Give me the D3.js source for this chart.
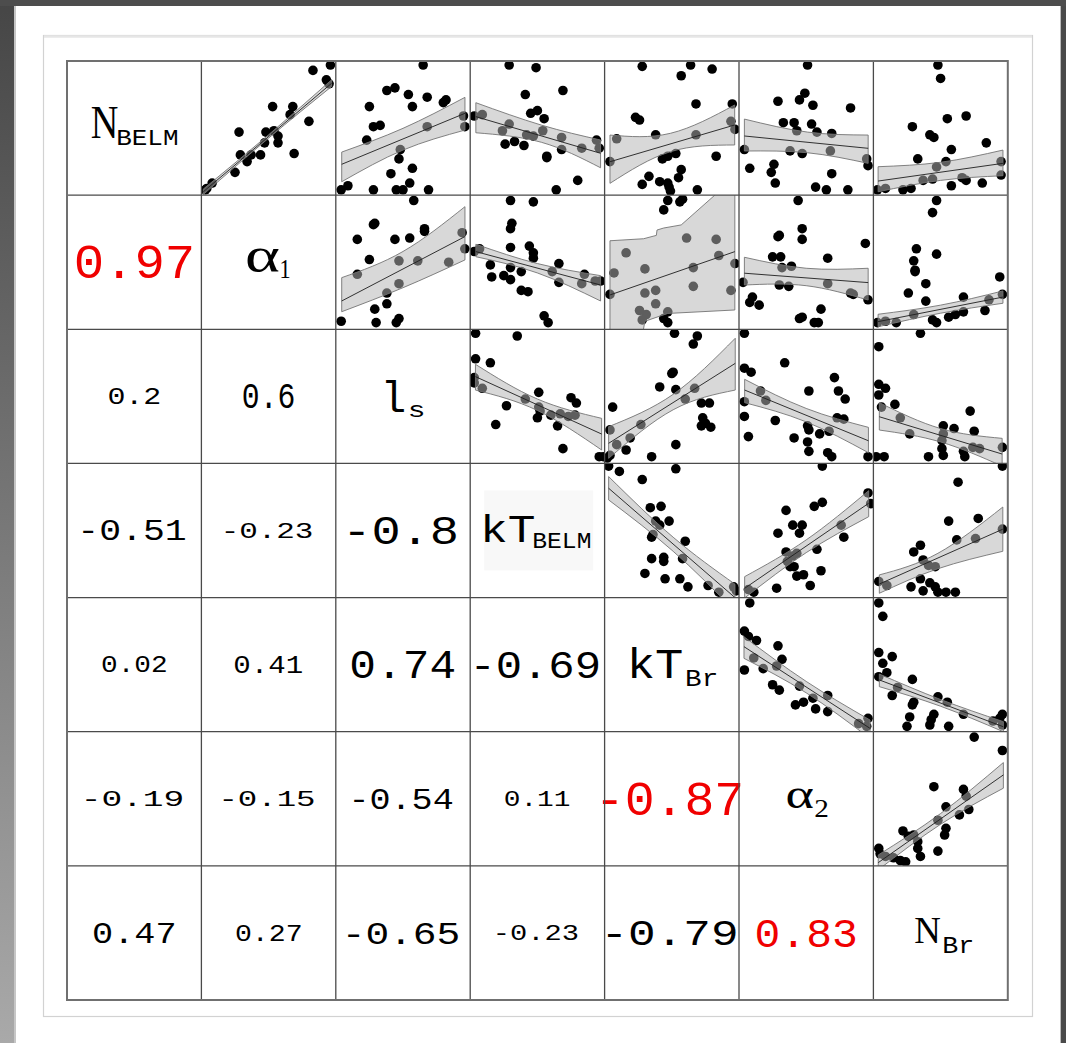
<!DOCTYPE html>
<html>
<head>
<meta charset="utf-8">
<script src="https://cdn.jsdelivr.net/npm/d3@7"></script>
<style>
  html, body { margin: 0; padding: 0; background: #fff; }
  svg { display: block; }
</style>
</head>
<body>
<svg id="chart" width="1066" height="1043"></svg>
<script>
// ---- variables on the diagonal (main symbol + subscript) ----
const varMain = ["N", "α", "l", "kT", "kT", "α", "N"];
const varSub  = ["BELM", "1", "s", "BELM", "Br", "2", "Br"];

// ---- Pearson correlations, lower triangle, row by row ----
const corrRows = [
  [],
  [0.97],
  [0.2, 0.6],
  [-0.51, -0.23, -0.8],
  [0.02, 0.41, 0.74, -0.69],
  [-0.19, -0.15, -0.54, 0.11, -0.87],
  [0.47, 0.27, -0.65, -0.23, -0.79, 0.83]
];

// ---- scatter data for the upper panels: [x, y] scaled 0..1 within each panel ----
const pts_NBELM_alpha1 = [[.83,.93],[.96,.97],[.93,.86],[.95,.83],[.53,.66],[.68,.66],[.66,.60],[.80,.55],[.28,.47],[.48,.47],[.54,.48],[.57,.44],[.47,.39],[.57,.39],[.69,.31],[.29,.30],[.37,.30],[.44,.30],[.34,.25],[.25,.17],[.08,.09],[.04,.05],[.03,.04]];
const pts_NBELM_ls = [[.65,.97],[.38,.78],[.44,.80],[.54,.75],[.68,.73],[.82,.71],[.80,.69],[.25,.66],[.57,.66],[.28,.51],[.33,.52],[.23,.41],[.95,.59],[.96,.51],[.68,.51],[.48,.34],[.47,.27],[.41,.16],[.57,.20],[.55,.09],[.09,.07],[.04,.04],[.28,.04],[.45,.04],[.50,.04],[.69,.04]];
const pts_NBELM_kTBELM = [[.29,.97],[.49,.95],[.41,.75],[.69,.78],[.45,.61],[.50,.63],[.55,.57],[.54,.48],[.09,.60],[.03,.59],[.29,.53],[.24,.48],[.42,.45],[.47,.44],[.68,.43],[.68,.34],[.83,.35],[.94,.41],[.96,.35],[.26,.38],[.33,.40],[.40,.37],[.57,.29],[.57,.28],[.80,.11],[.64,.04]];
const pts_NBELM_kTBr = [[.28,.96],[.64,.97],[.80,.94],[.57,.89],[.68,.68],[.23,.58],[.26,.56],[.95,.68],[.94,.55],[.97,.49],[.09,.42],[.38,.45],[.68,.45],[.04,.25],[.43,.27],[.47,.29],[.53,.31],[.83,.29],[.57,.19],[.55,.13],[.47,.09],[.41,.10],[.33,.14],[.28,.08],[.48,.06],[.49,.03],[.69,.04]];
const pts_NBELM_alpha2 = [[.51,.97],[.49,.76],[.45,.71],[.29,.70],[.55,.67],[.83,.65],[.33,.54],[.41,.54],[.54,.53],[.43,.48],[.58,.47],[.69,.46],[.04,.34],[.38,.33],[.47,.31],[.68,.33],[.95,.27],[.96,.22],[.08,.20],[.26,.23],[.24,.17],[.27,.09],[.69,.16],[.57,.06],[.65,.04],[.81,.04]];
const pts_NBELM_NBr = [[.48,.97],[.50,.87],[.29,.51],[.55,.57],[.69,.59],[.42,.45],[.45,.43],[.84,.39],[.33,.27],[.58,.34],[.54,.25],[.47,.21],[.95,.25],[.95,.15],[.37,.11],[.44,.12],[.66,.13],[.69,.11],[.81,.09],[.58,.07],[.03,.04],[.09,.05],[.22,.04],[.28,.05]];
const pts_alpha1_ls = [[.58,.96],[.29,.79],[.28,.78],[.66,.75],[.66,.73],[.16,.67],[.44,.67],[.55,.68],[.25,.52],[.94,.72],[.96,.60],[.84,.50],[.47,.51],[.61,.51],[.16,.41],[.47,.34],[.38,.27],[.38,.19],[.29,.15],[.47,.08],[.45,.05],[.30,.05],[.04,.06]];
const pts_alpha1_kTBELM = [[.30,.96],[.47,.95],[.31,.79],[.30,.75],[.30,.61],[.44,.62],[.47,.57],[.47,.53],[.07,.60],[.03,.58],[.15,.48],[.30,.46],[.38,.43],[.66,.49],[.61,.43],[.16,.39],[.25,.40],[.30,.37],[.38,.29],[.43,.28],[.66,.35],[.85,.41],[.83,.34],[.93,.36],[.97,.36],[.55,.10],[.58,.05]];
const pts_alpha1_kTBr = [[.47,.96],[.56,.95],[.58,.97],[.44,.89],[.61,.68],[.83,.67],[.16,.57],[.85,.55],[.07,.42],[.30,.45],[.66,.46],[.97,.49],[.04,.26],[.30,.27],[.38,.29],[.66,.32],[.94,.29],[.38,.19],[.26,.14],[.31,.11],[.28,.07],[.47,.13],[.44,.08],[.47,.05]];
const pts_alpha1_alpha2 = [[.44,.96],[.47,.75],[.47,.67],[.30,.70],[.29,.69],[.94,.64],[.25,.54],[.31,.54],[.39,.47],[.32,.46],[.66,.53],[.03,.35],[.30,.33],[.37,.32],[.66,.34],[.83,.27],[.85,.26],[.96,.22],[.10,.24],[.08,.20],[.15,.18],[.61,.15],[.45,.08],[.47,.09],[.56,.05],[.59,.05]];
const pts_alpha1_NBr = [[.47,.96],[.44,.87],[.32,.60],[.47,.56],[.30,.51],[.31,.44],[.31,.43],[.39,.34],[.26,.27],[.39,.21],[.94,.39],[.67,.24],[.96,.26],[.86,.22],[.83,.14],[.30,.11],[.44,.07],[.47,.05],[.56,.09],[.61,.11],[.67,.13],[.03,.05],[.09,.06],[.17,.05]];
const pts_ls_kTBELM = [[.04,.97],[.35,.95],[.04,.78],[.15,.75],[.03,.64],[.03,.60],[.09,.56],[.51,.53],[.41,.48],[.27,.43],[.51,.42],[.52,.39],[.75,.49],[.79,.45],[.60,.36],[.67,.37],[.73,.35],[.78,.36],[.50,.34],[.19,.29],[.65,.28],[.69,.11],[.96,.05],[.99,.05]];
const pts_ls_kTBr = [[.52,.97],[.69,.95],[.66,.89],[.51,.68],[.50,.67],[.41,.57],[.53,.55],[.60,.48],[.67,.56],[.72,.45],[.78,.45],[.06,.42],[.27,.29],[.73,.34],[.75,.30],[.72,.28],[.79,.27],[.04,.25],[.19,.19],[.09,.14],[.53,.14],[.16,.10],[.35,.05],[.04,.06],[.02,.04]];
const pts_ls_alpha2 = [[.04,.97],[.34,.75],[.04,.71],[.09,.68],[.71,.64],[.52,.54],[.16,.54],[.20,.47],[.74,.54],[.79,.48],[.04,.46],[.73,.34],[.78,.33],[.27,.32],[.04,.35],[.51,.28],[.52,.25],[.60,.22],[.67,.24],[.07,.20],[.41,.19],[.51,.16],[.52,.09],[.66,.08],[.69,.05],[.96,.05]];
const pts_ls_NBr = [[.35,.97],[.04,.87],[.04,.59],[.09,.56],[.04,.51],[.16,.44],[.06,.42],[.20,.34],[.27,.22],[.72,.39],[.52,.28],[.60,.26],[.75,.24],[.52,.22],[.51,.17],[.51,.11],[.52,.06],[.41,.05],[.67,.09],[.68,.05],[.74,.12],[.79,.11],[.96,.12],[.02,.05],[.08,.05]];
const pts_kTBELM_kTBr = [[.03,.98],[.11,.94],[.28,.88],[.53,.96],[.34,.67],[.42,.68],[.38,.57],[.48,.57],[.41,.54],[.36,.47],[.35,.45],[.60,.42],[.35,.29],[.44,.30],[.44,.27],[.30,.18],[.45,.14],[.56,.14],[.58,.29],[.62,.08],[.77,.09],[.96,.08],[.98,.05],[.85,.04]];
const pts_kTBELM_alpha2 = [[.62,.98],[.35,.65],[.56,.68],[.62,.71],[.29,.48],[.40,.54],[.47,.54],[.45,.48],[.78,.45],[.58,.36],[.35,.34],[.40,.31],[.43,.33],[.36,.27],[.38,.23],[.41,.23],[.61,.20],[.43,.16],[.48,.17],[.76,.54],[.96,.78],[.98,.70],[.28,.07],[.53,.09],[.07,.06],[.11,.04]];
const pts_kTBELM_NBr = [[.63,.86],[.96,.98],[.56,.57],[.78,.59],[.62,.43],[.96,.51],[.76,.44],[.30,.34],[.35,.39],[.37,.28],[.41,.24],[.46,.23],[.35,.14],[.42,.11],[.46,.08],[.28,.08],[.37,.05],[.48,.04],[.54,.04],[.61,.04],[.04,.12],[.10,.09]];
const pts_kTBr_alpha2 = [[.08,.96],[.04,.75],[.07,.71],[.13,.68],[.29,.64],[.32,.54],[.11,.55],[.18,.47],[.04,.46],[.28,.49],[.25,.35],[.30,.31],[.45,.34],[.55,.25],[.42,.20],[.48,.22],[.57,.17],[.66,.27],[.66,.15],[.89,.06],[.96,.10],[.95,.04]];
const pts_kTBr_NBr = [[.04,.96],[.07,.86],[.04,.59],[.07,.51],[.14,.56],[.10,.44],[.04,.41],[.29,.39],[.14,.27],[.18,.33],[.30,.22],[.29,.20],[.48,.26],[.55,.22],[.45,.13],[.43,.09],[.56,.04],[.27,.11],[.25,.04],[.42,.05],[.67,.13],[.89,.08],[.94,.10],[.96,.13],[.96,.05]];
const pts_alpha2_NBr = [[.75,.96],[.96,.86],[.45,.59],[.67,.57],[.69,.52],[.54,.44],[.71,.42],[.64,.38],[.48,.34],[.54,.28],[.53,.23],[.22,.26],[.26,.22],[.30,.23],[.33,.18],[.33,.13],[.35,.07],[.48,.11],[.04,.13],[.05,.09],[.09,.07],[.15,.06],[.20,.04],[.24,.03]];

// ---- linear fits with confidence bands: [x, lower, fit, upper] ----
const band_NBELM_alpha1 = [[.014,.005,.025,.045],[.5,.425,.437,.45],[.969,.81,.834,.86]];
const band_NBELM_ls = [[.044,.10,.23,.321],[.5,.336,.419,.498],[.961,.485,.61,.729]];
const band_NBELM_kTBELM = [[.042,.465,.585,.689],[.53,.394,.45,.522],[.97,.204,.312,.411]];
const band_NBELM_kTBr = [[.04,.088,.249,.448],[.49,.324,.394,.461],[.968,.374,.523,.672]];
const band_NBELM_alpha2 = [[.04,.329,.441,.567],[.51,.316,.395,.47],[.961,.237,.349,.448]];
const band_NBELM_NBr = [[.035,.025,.105,.212],[.5,.11,.171,.245],[.964,.145,.237,.336]];
const band_alpha1_ls = [[.044,.131,.211,.385],[.5,.31,.45,.58],[.961,.517,.691,.914]];
const band_alpha1_kTBELM = [[.042,.541,.579,.634],[.5,.42,.456,.49],[.97,.211,.33,.40]];
const band_alpha1_alpha2 = [[.04,.33,.418,.537],[.5,.325,.383,.455],[.961,.218,.348,.455]];
const band_alpha1_NBr = [[.035,.019,.057,.112],[.5,.12,.148,.18],[.964,.194,.24,.286]];
const band_ls_kTBELM = [[.039,.547,.647,.739],[.5,.395,.437,.48],[.978,.10,.219,.336]];
const band_ls_kTBr = [[.03,.038,.15,.274],[.51,.40,.456,.515],[.972,.547,.746,.933]];
const band_ls_alpha2 = [[.042,.453,.547,.627],[.5,.31,.359,.41],[.963,.08,.169,.269]];
const band_ls_NBr = [[.044,.249,.348,.453],[.5,.16,.209,.26],[.958,-.02,.07,.187]];
const band_kTBELM_kTBr = [[.03,.728,.815,.902],[.51,.345,.399,.45],[.97,-.10,0,.10]];
const band_kTBELM_alpha2 = [[.042,-.003,.069,.156],[.5,.335,.384,.43],[.965,.603,.703,.797]];
const band_kTBELM_NBr = [[.044,.032,.101,.169],[.48,.215,.27,.33],[.963,.345,.51,.675]];
const band_kTBr_alpha2 = [[.037,.547,.634,.708],[.5,.29,.333,.375],[.975,-.05,.025,.087]];
const band_kTBr_NBr = [[.044,.336,.386,.43],[.5,.19,.214,.24],[.967,0,.037,.075]];
const band_alpha2_NBr = [[.036,-.03,.024,.081],[.5,.31,.35,.39],[.967,.579,.678,.77]];
// the alpha1 / kT_Br band is irregular: its edges as [x, y] and the fit end points
const band_alpha1_kTBr_upper = [[.04,.66],[.29,.675],[.385,.70],[.39,.74],[.44,.755],[.57,.778],[.82,1.0],[.969,1.15]];
const band_alpha1_kTBr_lower = [[.04,-.05],[.28,-.05],[.30,.06],[.47,.118],[.969,.144]];
const fit_alpha1_kTBr = [[.04,.256],[.969,.579]];

const panels = [
  {r:0, c:1, pts: pts_NBELM_alpha1, band: band_NBELM_alpha1},
  {r:0, c:2, pts: pts_NBELM_ls, band: band_NBELM_ls},
  {r:0, c:3, pts: pts_NBELM_kTBELM, band: band_NBELM_kTBELM},
  {r:0, c:4, pts: pts_NBELM_kTBr, band: band_NBELM_kTBr},
  {r:0, c:5, pts: pts_NBELM_alpha2, band: band_NBELM_alpha2},
  {r:0, c:6, pts: pts_NBELM_NBr, band: band_NBELM_NBr},
  {r:1, c:2, pts: pts_alpha1_ls, band: band_alpha1_ls},
  {r:1, c:3, pts: pts_alpha1_kTBELM, band: band_alpha1_kTBELM},
  {r:1, c:4, pts: pts_alpha1_kTBr, band: null},
  {r:1, c:5, pts: pts_alpha1_alpha2, band: band_alpha1_alpha2},
  {r:1, c:6, pts: pts_alpha1_NBr, band: band_alpha1_NBr},
  {r:2, c:3, pts: pts_ls_kTBELM, band: band_ls_kTBELM},
  {r:2, c:4, pts: pts_ls_kTBr, band: band_ls_kTBr},
  {r:2, c:5, pts: pts_ls_alpha2, band: band_ls_alpha2},
  {r:2, c:6, pts: pts_ls_NBr, band: band_ls_NBr},
  {r:3, c:4, pts: pts_kTBELM_kTBr, band: band_kTBELM_kTBr},
  {r:3, c:5, pts: pts_kTBELM_alpha2, band: band_kTBELM_alpha2},
  {r:3, c:6, pts: pts_kTBELM_NBr, band: band_kTBELM_NBr},
  {r:4, c:5, pts: pts_kTBr_alpha2, band: band_kTBr_alpha2},
  {r:4, c:6, pts: pts_kTBr_NBr, band: band_kTBr_NBr},
  {r:5, c:6, pts: pts_alpha2_NBr, band: band_alpha2_NBr}
];

// ---- typesetting: ink box (width, height) of each correlation value ----
const corrBox = [
  [],
  [[115,33]],
  [[50,16],[50,25]],
  [[102,20],[86,15],[106,28]],
  [[63,16],[67,18],[102,28],[122,27]],
  [[96,15],[90,15],[98,21],[64,15],[138,33]],
  [[80,20],[64,17],[110,22],[80,15],[128,25],[98,28]]
];
// diagonal labels: ink box of symbol and subscript relative to the cell centre [dx, dy, w, h]
const MONO = "Liberation Mono", SERIF = "Liberation Serif";
const diagLayout = [
  {main:[-29.7,-5.1,26,30], sub:[13.3,9.4,59,15], mf:SERIF, sf:MONO},
  {main:[-5.6,-2.2,32,24], sub:[16.6,6.8,8,18], mf:SERIF, sf:SERIF},
  {main:[-8,-0.3,18,32], sub:[13.5,14.7,13,12], mf:MONO, sf:MONO},
  {main:[-27.9,-3,49,29], sub:[24.6,10,56,15], mf:MONO, sf:MONO},
  {main:[-14.8,-2.1,50,31], sub:[29.7,13.4,29,16], mf:MONO, sf:MONO},
  {main:[-6.2,-0.8,26,20], sub:[15.3,9.7,12,17], mf:SERIF, sf:SERIF},
  {main:[-13.1,-2.4,25,25], sub:[17.4,12.1,28,16], mf:SERIF, sf:MONO}
];

const svg = d3.select("#chart");
const W = 1066, H = 1043;
const defs = svg.append("defs");

// ---- page frame ----
svg.append("rect").attr("width", W).attr("height", H).attr("fill", "#fff");
const lg = defs.append("linearGradient").attr("id", "sideGrad").attr("x1", 0).attr("y1", 0).attr("x2", 0).attr("y2", 1);
lg.append("stop").attr("offset", "0%").attr("stop-color", "#464646");
lg.append("stop").attr("offset", "100%").attr("stop-color", "#a9a9a9");
svg.append("rect").attr("x", 0).attr("y", 0).attr("width", 14).attr("height", H).attr("fill", "url(#sideGrad)");
svg.append("rect").attr("x", 14).attr("y", 0).attr("width", 2).attr("height", H).attr("fill", "#b8b8b8").attr("opacity", 0.8);
svg.append("rect").attr("x", 1061).attr("y", 0).attr("width", 5).attr("height", H).attr("fill", "#4a4a4a");
svg.append("rect").attr("x", 1060).attr("y", 0).attr("width", 1).attr("height", H).attr("fill", "#bbb");
svg.append("rect").attr("x", 0).attr("y", 0).attr("width", W).attr("height", 6).attr("fill", "#4d4d4d");

// inner sheet
svg.append("rect").attr("x", 43.5).attr("y", 35.5).attr("width", 989).attr("height", 981)
  .attr("fill", "#fff").attr("stroke", "#d2d2d2").attr("stroke-width", 1.2);
svg.append("line").attr("x1", 44).attr("x2", 1032).attr("y1", 36.5).attr("y2", 36.5)
  .attr("stroke", "#e6e6e6").attr("stroke-width", 2.5);

// ---- matrix scales ----
const n = 7;
const col = d3.scaleBand().domain(d3.range(n)).range([67, 1007.8]);
const row = d3.scaleBand().domain(d3.range(n)).range([61, 1000]);
const cw = col.bandwidth(), ch = row.bandwidth();

// measuring context for fitting text ink boxes
const ctx = document.createElement("canvas").getContext("2d");
function fitText(g, str, family, cx, cy, w, h, fill) {
  ctx.font = `100px '${family}'`;
  const m = ctx.measureText(str);
  const inkW = m.actualBoundingBoxLeft + m.actualBoundingBoxRight;
  const inkH = m.actualBoundingBoxAscent + m.actualBoundingBoxDescent;
  const s = h / inkH;
  const sx = w / (inkW * s);
  const midX = (m.actualBoundingBoxRight - m.actualBoundingBoxLeft) / 2 * s;
  const midY = (m.actualBoundingBoxDescent - m.actualBoundingBoxAscent) / 2 * s;
  g.append("text")
    .attr("transform", `translate(${cx - midX * sx},${cy - midY}) scale(${sx},1)`)
    .attr("font-family", family)
    .attr("font-size", 100 * s)
    .attr("fill", fill)
    .text(str);
}

// ---- upper triangle: scatter + fit ----
const gPanels = svg.append("g");
panels.forEach((p, i) => {
  const x = d3.scaleLinear().domain([0, 1]).range([col(p.c), col(p.c) + cw]);
  const y = d3.scaleLinear().domain([0, 1]).range([row(p.r) + ch, row(p.r)]);
  const id = "clip" + i;
  defs.append("clipPath").attr("id", id).append("rect")
    .attr("x", col(p.c)).attr("y", row(p.r)).attr("width", cw).attr("height", ch);
  const g = gPanels.append("g").attr("clip-path", `url(#${id})`);

  g.selectAll("circle").data(p.pts).join("circle")
    .attr("cx", d => x(d[0])).attr("cy", d => y(d[1])).attr("r", 4.8).attr("fill", "#000");

  let bandPath, fitPts;
  if (p.band) {
    bandPath = d3.area().x(d => x(d[0])).y0(d => y(d[1])).y1(d => y(d[3])).curve(d3.curveNatural)(p.band);
    fitPts = [p.band[0], p.band[p.band.length - 1]].map(d => [d[0], d[2]]);
  } else {
    const poly = band_alpha1_kTBr_upper.concat(band_alpha1_kTBr_lower.slice().reverse());
    bandPath = d3.line().x(d => x(d[0])).y(d => y(d[1]))(poly) + "Z";
    fitPts = fit_alpha1_kTBr;
  }
  g.append("path").attr("d", bandPath)
    .attr("fill", "rgb(180,180,180)").attr("fill-opacity", 0.52)
    .attr("stroke", "#747474").attr("stroke-width", 0.9);
  g.append("path").attr("d", d3.line().x(d => x(d[0])).y(d => y(d[1]))(fitPts))
    .attr("fill", "none").attr("stroke", "#1e1e1e").attr("stroke-width", 0.9);
});

// ---- lower triangle: correlation values ----
const gCorr = svg.append("g");
corrRows.forEach((vals, r) => {
  vals.forEach((v, c) => {
    const [bw, bh] = corrBox[r][c];
    const cx = col(c) + cw / 2, cy = row(r) + ch / 2;
    fitText(gCorr, String(v), MONO, cx, cy, bw, bh, Math.abs(v) > 0.8 ? "#f00000" : "#000");
  });
});

// ---- diagonal: variable names ----
const gDiag = svg.append("g");
// faint backing behind the kT_BELM label
gDiag.append("rect").attr("x", col(3) + 14).attr("y", row(3) + 27).attr("width", 109).attr("height", 80)
  .attr("fill", "#f8f8f8");
d3.range(n).forEach(k => {
  const cx = col(k) + cw / 2, cy = row(k) + ch / 2;
  const L = diagLayout[k];
  fitText(gDiag, varMain[k], L.mf, cx + L.main[0], cy + L.main[1], L.main[2], L.main[3], "#000");
  fitText(gDiag, varSub[k], L.sf, cx + L.sub[0], cy + L.sub[1], L.sub[2], L.sub[3], "#000");
});

// ---- grid ----
const gGrid = svg.append("g");
const xs = d3.range(n + 1).map(i => i < n ? col(i) : col(n - 1) + cw);
const ys = d3.range(n + 1).map(i => i < n ? row(i) : row(n - 1) + ch);
xs.forEach((xv, i) => {
  if (i === 0 || i === n) return;
  gGrid.append("line").attr("x1", xv).attr("x2", xv).attr("y1", ys[0]).attr("y2", ys[n])
    .attr("stroke", "#4a4a4a").attr("stroke-width", 1.3);
});
ys.forEach((yv, i) => {
  if (i === 0 || i === n) return;
  gGrid.append("line").attr("x1", xs[0]).attr("x2", xs[n]).attr("y1", yv).attr("y2", yv)
    .attr("stroke", "#4a4a4a").attr("stroke-width", 1.3);
});
gGrid.append("rect").attr("x", xs[0]).attr("y", ys[0]).attr("width", xs[n] - xs[0]).attr("height", ys[n] - ys[0])
  .attr("fill", "none").attr("stroke", "#707070").attr("stroke-width", 2);
</script>
</body>
</html>
